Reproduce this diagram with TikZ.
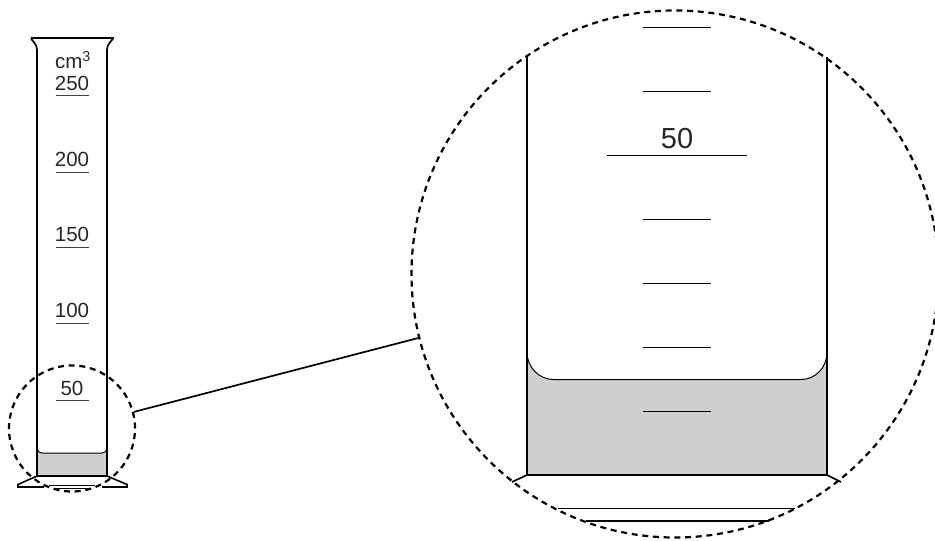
\documentclass[tikz,border=0pt]{standalone}
\usepackage{fontspec}
\setmainfont{Liberation Sans}
\tikzset{
  px/.style={x=1pt,y=-1pt},
  wall/.style={line width=1.7pt,black},
  circ/.style={line width=2.2pt,black,dash pattern=on 6pt off 4.7pt},
  lab/.style={inner sep=0pt,font=\fontsize{20.5}{20.5}\selectfont,text=black!85},
  biglab/.style={inner sep=0pt,font=\fontsize{29}{29}\selectfont,text=black!85},
}
\definecolor{liq}{gray}{0.81}
\begin{document}
\begin{tikzpicture}[px]
\useasboundingbox (0,0) rectangle (935,541);
\clip (0,0) rectangle (935,541);
% small cylinder
\fill[liq] (37,448) .. controls (37,451) and (39,453) .. (43,453) -- (102,453) .. controls (105,453) and (107,451) .. (107,448) -- (107,476) -- (37,476) -- cycle;
\draw[line width=1pt] (37,448) .. controls (37,451) and (39,453) .. (43,453) -- (102,453) .. controls (105,453) and (107,451) .. (107,448);
\draw[line width=2.2pt] (30.5,38) -- (113.5,38);
\draw[wall] (31,38.5) .. controls (33,42) and (37,44) .. (37,50) -- (37,476) -- (107,476) -- (107,50) .. controls (107,44) and (111,42) .. (113,38.5);
\draw[line width=1.6pt] (37,476) -- (18,484.5) -- (18,487) -- (44,487);
\draw[line width=1.6pt] (107,476) -- (127,484.5) -- (127,487) -- (102,487);
\draw[line width=1pt] (49,485) -- (95,485);
\draw[line width=1pt] (55,488) -- (89,488);
% small ticks
\foreach \y in {95,172,247,323,400} \draw[line width=0.9pt,black!75] (56,\y) -- (89,\y);
\node[lab] (c) at (73,60) {cm\textsuperscript{3}};
\node[lab] (a) at (72,83) {250};
\node[lab] (b) at (72,159.5) {200};
\node[lab] (d) at (72,234.5) {150};
\node[lab] (e) at (72,310.5) {100};
\node[lab] (f) at (72,388) {50};
% big cylinder
\fill[liq] (527,352) .. controls (527,368) and (540,379.5) .. (553,379.5) -- (801,379.5) .. controls (815,379.5) and (827,368) .. (827,352) -- (827,475) -- (527,475) -- cycle;
\draw[line width=1pt] (527,352) .. controls (527,368) and (540,379.5) .. (553,379.5) -- (801,379.5) .. controls (815,379.5) and (827,368) .. (827,352);
\draw[wall] (527,57) -- (527,475) -- (827,475) -- (827,57);
\draw[wall] (527,475) -- (512,482);
\draw[wall] (827,475) -- (841,482);
\draw[line width=1pt] (558,508.5) -- (795,508.5);
\draw[wall] (586,521) -- (769,521);
\foreach \y in {27.5,91,219,283,347,411} \draw[line width=0.9pt] (643,\y) -- (711,\y);
\draw[line width=0.9pt] (607,155.5) -- (747,155.5);
\node[biglab] (g) at (677,139) {50};
% lens
\node[circle,circ,draw,minimum size=126pt,inner sep=0pt] (s) at (72,428.5) {};
\node[circle,circ,draw,minimum size=527pt,inner sep=0pt] (l) at (675,274) {};
\draw[line width=1.7pt] (s.15) -- (l.194.4);
\end{tikzpicture}
\end{document}
